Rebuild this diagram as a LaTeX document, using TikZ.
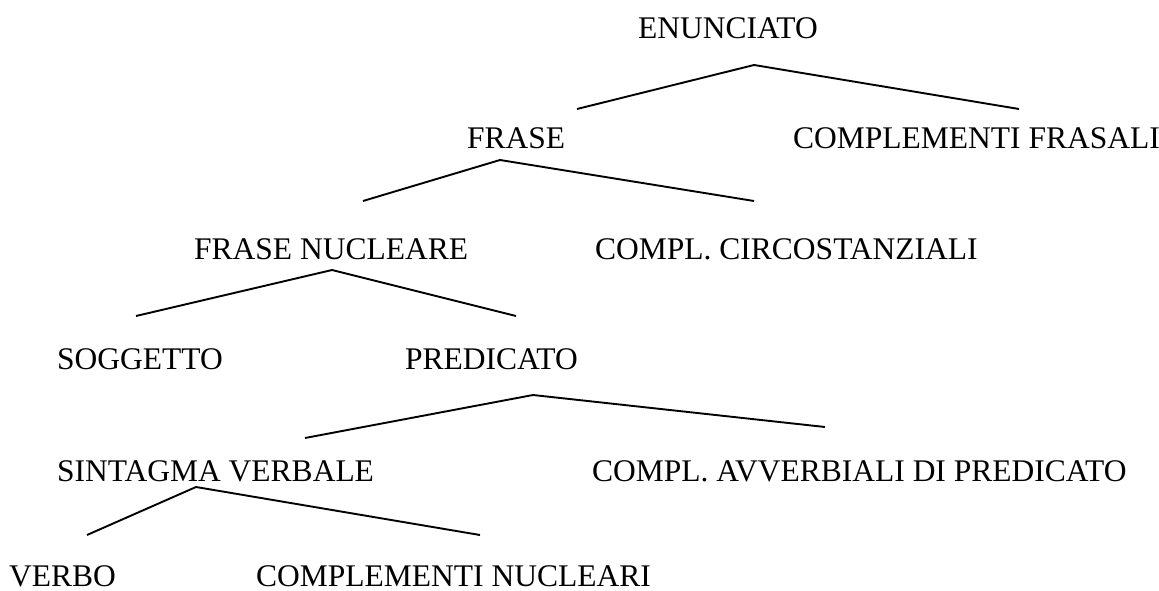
\documentclass[tikz,border=0pt]{standalone}
\usepackage{fontspec}
\setmainfont{Liberation Serif}
\begin{document}
\begin{tikzpicture}[x=1pt,y=-1pt,
  lbl/.style={anchor=base west,inner sep=0pt,font=\fontsize{31.5}{36}\selectfont},
  branch/.style={line width=1.9pt,line join=miter}]
\useasboundingbox (0,0) rectangle (1159,591);
% labels
\node[lbl] (enun) at (638,39) {ENUNCIATO};
\node[lbl] (frase) at (467,148.5) {FRASE};
\node[lbl] (cfras) at (793,148.5) {COMPLEMENTI FRASALI};
\node[lbl] (fnuc) at (194,259) {FRASE NUCLEARE};
\node[lbl] (ccirc) at (595,259) {COMPL. CIRCOSTANZIALI};
\node[lbl] (sogg) at (57,369) {SOGGETTO};
\node[lbl] (pred) at (405,369) {PREDICATO};
\node[lbl] (sverb) at (57,481) {SINTAGMA VERBALE};
\node[lbl] (cavv) at (592,481) {COMPL. AVVERBIALI DI PREDICATO};
\node[lbl] (verbo) at (9,586) {VERBO};
\node[lbl] (cnuc) at (256,586) {COMPLEMENTI NUCLEARI};
% branch points
\coordinate (enunA) at (754,65);  \coordinate (enunL) at (577,109); \coordinate (enunR) at (1019,109);
\coordinate (fraseA) at (500,160); \coordinate (fraseL) at (363,201); \coordinate (fraseR) at (754,201);
\coordinate (fnucA) at (332,270); \coordinate (fnucL) at (136,316); \coordinate (fnucR) at (516,316);
\coordinate (predA) at (533,395); \coordinate (predL) at (305,438); \coordinate (predR) at (825,427);
\coordinate (sverbA) at (196,487); \coordinate (sverbL) at (87,535); \coordinate (sverbR) at (480,535);
% branches
\draw[branch] (enunL) -- (enunA) -- (enunR);
\draw[branch] (fraseL) -- (fraseA) -- (fraseR);
\draw[branch] (fnucL) -- (fnucA) -- (fnucR);
\draw[branch] (predL) -- (predA) -- (predR);
\draw[branch] (sverbL) -- (sverbA) -- (sverbR);
\end{tikzpicture}
\end{document}
